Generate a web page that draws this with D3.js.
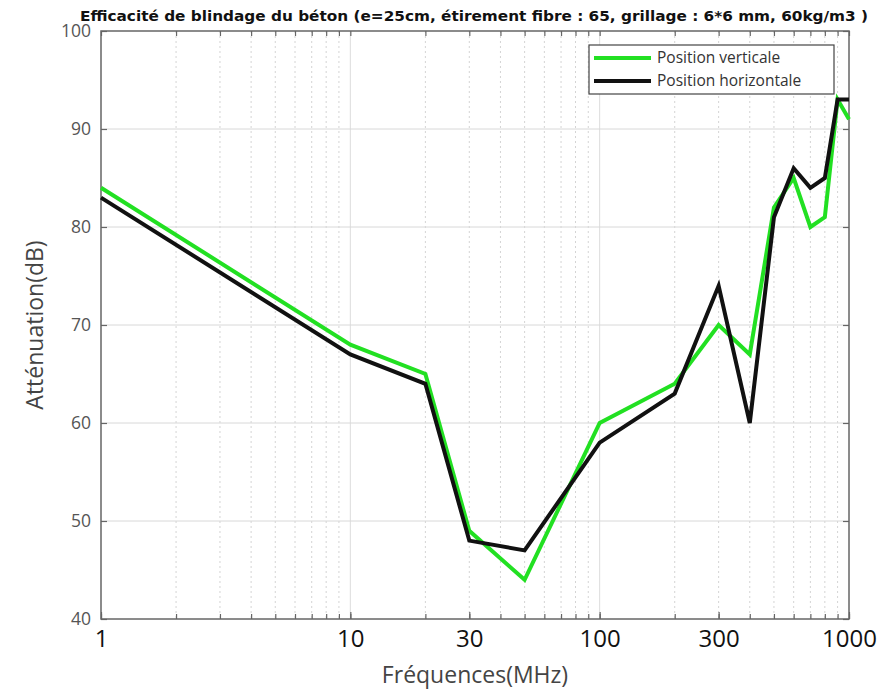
<!DOCTYPE html>
<html lang="fr">
<head>
  <meta charset="UTF-8">
  <title>Efficacité de blindage du béton</title>
  <script src="https://cdn.jsdelivr.net/npm/d3@7"></script>
  <style>
    body{ margin:0; background:#fff; }
    .chart svg{ display:block; background:#fff; }
  </style>
</head>
<body>
<div class="chart"></div>
<script>
// valeurs
const freqs = [1, 10, 20, 30, 50, 100, 200, 300, 400, 500, 600, 700, 800, 900, 1000];
const vertical = [84, 68, 65, 49, 44, 60, 64, 70, 67, 82, 85, 80, 81, 93, 91];
const horizontal = [83, 67, 64, 48, 47, 58, 63, 74, 60, 81, 86, 84, 85, 93, 93];
const xTicks = [1, 10, 30, 100, 300, 1000];
const yTicks = [40, 50, 60, 70, 80, 90, 100];
const seriesNames = ['Position verticale', 'Position horizontale'];
const seriesColors = ['#22e022', '#111111'];

const bxSize = {w: 889, h: 689};
const margin = {top: 31, right: 40, bottom: 70, left: 101};
const [width, height] = [bxSize.w - margin.left - margin.right, bxSize.h - margin.top - margin.bottom];

const svg = d3.select('.chart').append('svg')
  .attr('width', bxSize.w).attr('height', bxSize.h);
const g = svg.append('g').attr('transform', `translate(${margin.left} ${margin.top})`);

const xScale = d3.scaleLog().domain([1, 1000]).range([0, width]);
const yScale = d3.scaleLinear().domain([40, 100]).range([height, 0]);

// graduations mineures (2..9 par décade)
const minor = [];
[1, 10, 100].forEach(d => { for (let k = 2; k <= 9; k++) minor.push(d * k); });
const decades = [10, 100];

// grille
const grid = g.append('g');
grid.selectAll('.vminor').data(minor).enter().append('line')
  .attr('x1', d => xScale(d)).attr('x2', d => xScale(d))
  .attr('y1', 0).attr('y2', height)
  .attr('stroke', '#d4d4d4').attr('stroke-width', 1).attr('stroke-dasharray', '2,3');
grid.selectAll('.vmajor').data(decades).enter().append('line')
  .attr('x1', d => xScale(d)).attr('x2', d => xScale(d))
  .attr('y1', 0).attr('y2', height)
  .attr('stroke', '#dcdcdc').attr('stroke-width', 1);
grid.selectAll('.h').data(yTicks.slice(1, -1)).enter().append('line')
  .attr('x1', 0).attr('x2', width)
  .attr('y1', d => yScale(d)).attr('y2', d => yScale(d))
  .attr('stroke', '#d8d8d8').attr('stroke-width', 1);

// axes (ticks vers l'intérieur)
const axisColor = '#666';
function styleAxis(sel){
  sel.select('.domain').remove();
  sel.selectAll('.tick line').attr('stroke', axisColor).attr('stroke-width', 1.2);
}
const allX = minor.concat([1, 10, 100, 1000]);
g.append('g').attr('transform', `translate(0 ${height})`)
  .call(d3.axisBottom(xScale).tickValues(allX).tickSize(-5).tickFormat(''))
  .call(styleAxis);
g.append('g')
  .call(d3.axisTop(xScale).tickValues(allX).tickSize(-5).tickFormat(''))
  .call(styleAxis);
g.append('g').attr('transform', `translate(${width} 0)`)
  .call(d3.axisRight(yScale).tickValues(yTicks).tickSize(-6).tickFormat(''))
  .call(styleAxis);

const xAxis = g.append('g').attr('transform', `translate(0 ${height})`)
  .call(d3.axisBottom(xScale).tickValues(xTicks).tickSize(-7).tickPadding(11).tickFormat(d3.format('d')));
xAxis.call(styleAxis);
xAxis.selectAll('text').attr('font-family', '"Open Sans", sans-serif').attr('font-size', 24)
  .attr('fill', '#111').attr('dy', '0.71em');

const yAxis = g.append('g')
  .call(d3.axisLeft(yScale).tickValues(yTicks).tickSize(-6).tickPadding(10).tickFormat(d3.format('d')));
yAxis.call(styleAxis);
yAxis.selectAll('text').attr('font-family', '"Open Sans", sans-serif').attr('font-size', 17.5)
  .attr('fill', '#555');

// cadre
g.append('rect').attr('width', width).attr('height', height)
  .attr('fill', 'none').attr('stroke', axisColor).attr('stroke-width', 1.5);

// courbes
const line = d3.line().x(d => xScale(d[0])).y(d => yScale(d[1]));
[vertical, horizontal].forEach((vals, i) => {
  g.append('path').datum(freqs.map((f, j) => [f, vals[j]]))
    .attr('d', line).attr('fill', 'none')
    .attr('stroke', seriesColors[i]).attr('stroke-width', 4)
    .attr('stroke-linejoin', 'miter');
});

// légende
const lg = g.append('g').attr('transform', `translate(${589 - margin.left} ${45 - margin.top})`);
lg.append('rect').attr('width', 245).attr('height', 49)
  .attr('fill', '#fff').attr('stroke', '#444').attr('stroke-width', 1.2);
seriesNames.forEach((name, i) => {
  const y = 13 + i * 23;
  lg.append('line').attr('x1', 5).attr('x2', 62).attr('y1', y).attr('y2', y)
    .attr('stroke', seriesColors[i]).attr('stroke-width', 4);
  lg.append('text').attr('x', 68).attr('y', y).attr('dy', '0.35em')
    .attr('font-family', '"Open Sans", sans-serif').attr('font-size', 15.5)
    .attr('fill', '#333').text(name);
});

// titres
svg.append('text').attr('x', 80).attr('y', 21)
  .attr('font-family', '"DejaVu Sans", sans-serif').attr('font-weight', 'bold')
  .attr('font-size', 13.5).attr('fill', '#111')
  .attr('textLength', 788).attr('lengthAdjust', 'spacingAndGlyphs')
  .text('Efficacité de blindage du béton (e=25cm, étirement fibre : 65, grillage : 6*6 mm, 60kg/m3 )');

svg.append('text').attr('x', margin.left + width / 2).attr('y', 683)
  .attr('text-anchor', 'middle')
  .attr('font-family', '"Open Sans", sans-serif').attr('font-size', 23).attr('fill', '#444')
  .text('Fréquences(MHz)');

svg.append('text').attr('transform', `translate(43 ${margin.top + height / 2}) rotate(-90)`)
  .attr('text-anchor', 'middle')
  .attr('font-family', '"Open Sans", sans-serif').attr('font-size', 23).attr('fill', '#444')
  .text('Atténuation(dB)');
</script>
</body>
</html>
